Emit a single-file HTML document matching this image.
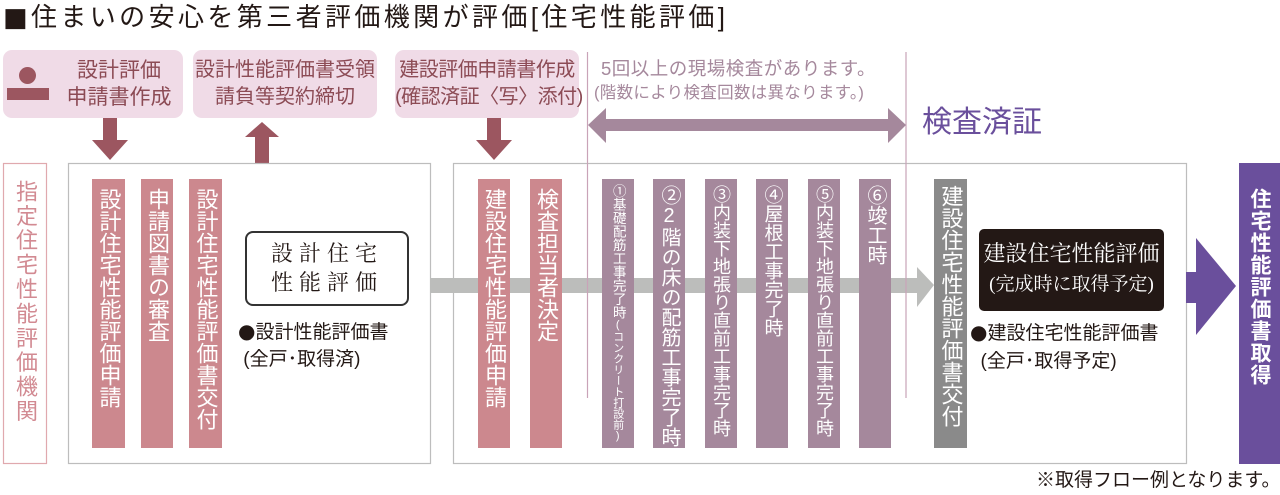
<!DOCTYPE html>
<html><head><meta charset="utf-8">
<style>
*{margin:0;padding:0;box-sizing:border-box}
body{width:1280px;height:495px;background:#fff;position:relative;overflow:hidden;font-family:"Liberation Sans","Noto Sans CJK JP",sans-serif}
.a{position:absolute}
.pk{background:#f0dbe7;border-radius:9px;color:#8c4b55;font-size:20px;line-height:27px;text-align:center;white-space:nowrap}
.v{writing-mode:vertical-rl;text-orientation:upright;color:#fff;text-align:start;line-height:1;font-size:22px;padding-top:9px;white-space:nowrap}
.vb{display:flex;justify-content:center}
.bar-r{background:#cc888e}
.bar-p{background:#a5889c}
.bar-g{background:#8a8a8a}
</style></head><body>
<div class="a" style="left:3px;top:1px;font-size:26px;letter-spacing:3.4px;color:#231815;line-height:32px;white-space:nowrap"><span style="font-family:'DejaVu Sans',sans-serif;font-size:26px">■</span>住まいの安心を第三者評価機関が評価[住宅性能評価]</div>

<div class="a pk" style="left:3px;top:50px;width:180px;height:68px;padding:7px 0 0 52px;font-size:21px">設計評価<br>申請書作成</div>
<div class="a" style="left:19px;top:67px;width:17px;height:17px;border-radius:50%;background:#9c5660"></div>
<div class="a" style="left:7px;top:88px;width:42px;height:12px;background:#9c5660"></div>
<div class="a pk" style="left:193px;top:50px;width:184px;height:68px;padding-top:7px">設計性能評価書受領<br>請負等契約締切</div>
<div class="a pk" style="left:395px;top:50px;width:184px;height:68px;padding-top:7px;letter-spacing:-0.5px">建設評価申請書作成<br>(確認済証〈写〉添付)</div>

<svg class="a" style="left:0;top:0" width="1280" height="495">
 <g fill="#9c5660">
  <rect x="103" y="118" width="14" height="24"/><polygon points="92,140 128,140 110,160"/>
  <rect x="255" y="135" width="14" height="28"/><polygon points="245,137 279,137 262,122"/>
  <rect x="487" y="118" width="14" height="24"/><polygon points="476,140 512,140 494,160"/>
 </g>
 <line x1="587.5" y1="52" x2="587.5" y2="398" stroke="#c9a3b8" stroke-width="1.2"/>
 <line x1="906" y1="52" x2="906" y2="398" stroke="#c9a3b8" stroke-width="1.2"/>
 <g fill="#a5889c">
  <rect x="603" y="119" width="287" height="12"/>
  <polygon points="588,125 606,108 606,143"/>
  <polygon points="906,125 888,108 888,143"/>
 </g>
 <rect x="3.5" y="163.5" width="43" height="300" fill="none" stroke="#e0a9ae" stroke-width="1.2"/>
 <rect x="68.5" y="163.5" width="362" height="300" fill="#fff" stroke="#bdbdbd" stroke-width="1.2"/>
 <rect x="453.5" y="163.5" width="733" height="300" fill="#fff" stroke="#bdbdbd" stroke-width="1.2"/>
 <rect x="430" y="278" width="488" height="15" fill="#bcbdbb"/>
 <polygon points="917,267 934,285 917,307" fill="#bcbdbb"/>
 <rect x="1186" y="272" width="14" height="31" fill="#6a4f9c"/>
 <polygon points="1196,238 1236,286 1196,335" fill="#6a4f9c"/>
 <rect x="1239" y="163" width="41" height="301" fill="#6a4f9c"/>
 <line x1="587.5" y1="163" x2="587.5" y2="398" stroke="#c9a3b8" stroke-width="1.2"/>
 <line x1="906" y1="163" x2="906" y2="398" stroke="#c9a3b8" stroke-width="1.2"/>
</svg>

<div class="a" style="left:601px;top:57px;font-size:18.5px;color:#a5889c;line-height:24px;white-space:nowrap;letter-spacing:0.5px">5回以上の現場検査があります。</div>
<div class="a" style="left:594px;top:83px;font-size:16.5px;color:#a5889c;line-height:20px;white-space:nowrap;letter-spacing:0.3px">(階数により検査回数は異なります。)</div>
<div class="a" style="left:922px;top:105px;font-size:30px;color:#6a4f9c;line-height:36px;white-space:nowrap">検査済証</div>

<div class="a vb" style="left:3px;top:180px;width:44px;height:270px"><div class="v" style="color:#d28a92;font-size:22px;letter-spacing:2.4px;padding:0">指定住宅性能評価機関</div></div>

<div class="a bar-r vb" style="left:92px;top:179px;width:33px;height:269px"><div class="v">設計住宅性能評価申請</div></div>
<div class="a bar-r vb" style="left:141px;top:179px;width:32px;height:269px"><div class="v">申請図書の審査</div></div>
<div class="a bar-r vb" style="left:189px;top:179px;width:33px;height:269px"><div class="v">設計住宅性能評価書交付</div></div>

<div class="a" style="left:245px;top:231px;width:164px;height:75px;border:2px solid #333;border-radius:8px;text-align:center;font-family:'Liberation Serif','Noto Serif CJK SC',serif;font-size:22px;letter-spacing:6px;line-height:29px;padding-top:6px;color:#231815">設計住宅<br>性能評価</div>
<div class="a" style="left:238px;top:318px;font-size:19px;line-height:27px;color:#231815;white-space:nowrap"><span style="font-family:'DejaVu Sans',sans-serif;font-size:20px">●</span>設計性能評価書<br>&nbsp;(全戸･取得済)</div>

<div class="a bar-r vb" style="left:478px;top:179px;width:32px;height:269px"><div class="v">建設住宅性能評価申請</div></div>
<div class="a bar-r vb" style="left:530px;top:179px;width:32px;height:269px"><div class="v">検査担当者決定</div></div>

<div class="a bar-p vb" style="left:602px;top:179px;width:32px;height:269px;overflow:hidden"><div class="v" style="font-size:13.5px;padding-top:5px">①基礎配筋工事完了時<span style="font-size:11px">(コンクリート打設前)</span></div></div>
<div class="a bar-p vb" style="left:653px;top:179px;width:32px;height:269px"><div class="v" style="font-size:20px;padding-top:6px">②2階の床の配筋工事完了時</div></div>
<div class="a bar-p vb" style="left:705px;top:179px;width:32px;height:269px"><div class="v" style="font-size:18px;padding-top:6px">③内装下地張り直前工事完了時</div></div>
<div class="a bar-p vb" style="left:756px;top:179px;width:32px;height:269px"><div class="v" style="font-size:19px;padding-top:6px">④屋根工事完了時</div></div>
<div class="a bar-p vb" style="left:808px;top:179px;width:32px;height:269px"><div class="v" style="font-size:18px;padding-top:6px">⑤内装下地張り直前工事完了時</div></div>
<div class="a bar-p vb" style="left:859px;top:179px;width:32px;height:269px"><div class="v" style="font-size:20px;padding-top:6px">⑥竣工時</div></div>
<div class="a bar-g vb" style="left:934px;top:179px;width:33px;height:269px"><div class="v" style="padding-top:6px">建設住宅性能評価書交付</div></div>

<div class="a" style="left:979px;top:229px;width:185px;height:82px;background:#231815;border-radius:5px;color:#fff;text-align:center;font-family:'Liberation Serif','Noto Serif CJK SC',serif;font-size:22px;line-height:29px;padding-top:10px;white-space:nowrap">建設住宅性能評価<br><span style="font-size:19px">(完成時に取得予定)</span></div>
<div class="a" style="left:970px;top:318px;font-size:19px;line-height:28px;color:#231815;white-space:nowrap"><span style="font-family:'DejaVu Sans',sans-serif;font-size:20px">●</span>建設住宅性能評価書<br>&nbsp;&nbsp;(全戸･取得予定)</div>

<div class="a vb" style="left:1239px;top:188px;width:41px;height:260px"><div class="v" style="font-weight:bold;font-size:21px;padding:0;letter-spacing:1px">住宅性能評価書取得</div></div>

<div class="a" style="left:1036px;top:470px;font-size:19px;color:#231815;line-height:22px;white-space:nowrap">※取得フロー例となります。</div>
</body></html>
